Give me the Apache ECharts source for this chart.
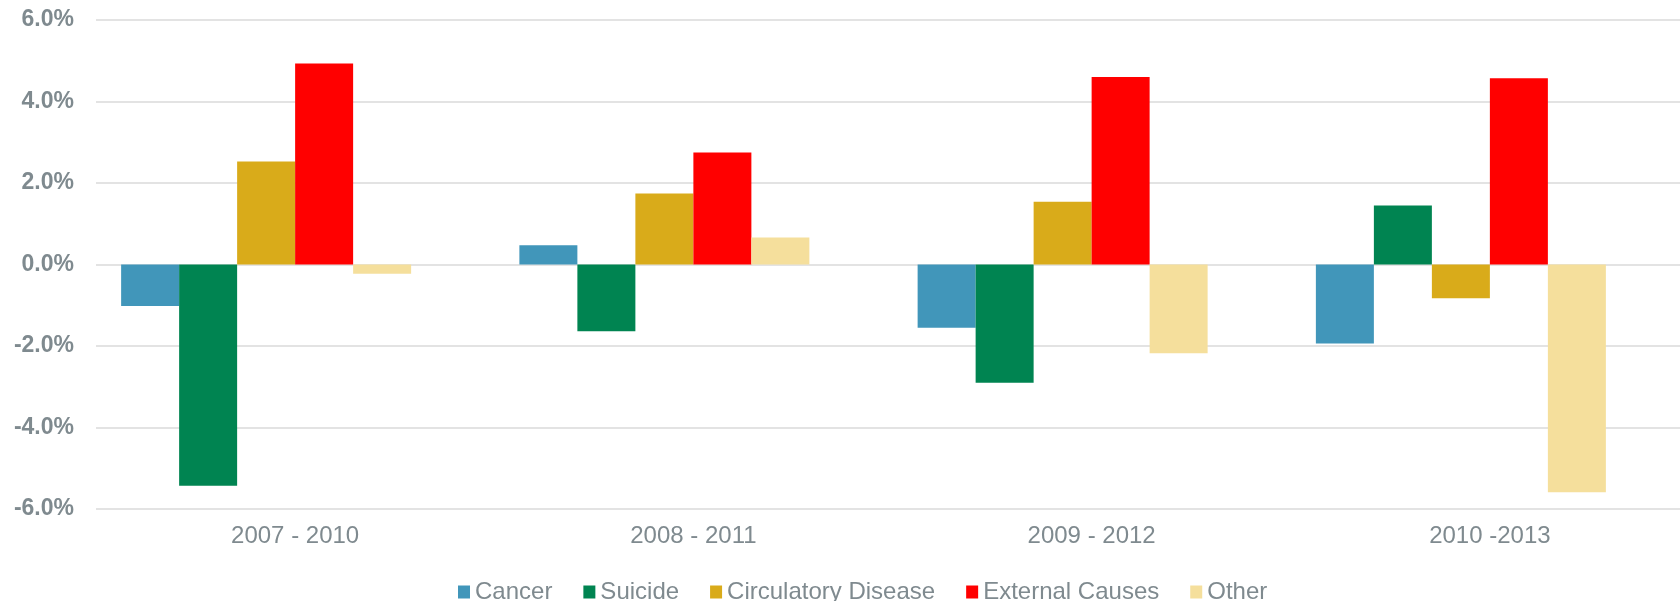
<!DOCTYPE html>
<html>
<head>
<meta charset="utf-8">
<script src="https://cdn.jsdelivr.net/npm/echarts@6/dist/echarts.min.js"></script>
<style>
  html, body { margin: 0; padding: 0; background: #fff; }
  #chart { width: 1680px; height: 601px; }
</style>
</head>
<body>
<div id="chart"></div>
<script>
// periods on the x axis
const periods = ["2007 - 2010", "2008 - 2011", "2009 - 2012", "2010 -2013"];

// change in deaths, percent
const cancer      = [-1.02, 0.47, -1.55, -1.94];
const suicide     = [-5.43, -1.64, -2.90, 1.45];
const circulatory = [2.53, 1.74, 1.54, -0.83];
const external    = [4.93, 2.75, 4.60, 4.57];
const other       = [-0.23, 0.66, -2.18, -5.59];

const seriesNames = ["Cancer", "Suicide", "Circulatory Disease", "External Causes", "Other"];
const seriesData = [cancer, suicide, circulatory, external, other];
const colors = ["#4196ba", "#008451", "#d9ab1a", "#ff0000", "#f5df9c"];

const labelGrey = "#7f8a8f";

const series = seriesData.map((d, i) => ({
  name: seriesNames[i],
  type: "bar",
  data: d,
  barWidth: 58,
  barGap: "0%",
  itemStyle: { color: colors[i] }
}));
// the source leaves an empty sixth slot in each group
series.push({ name: "", type: "bar", data: [], barWidth: 58, barGap: "0%" });

const chart = echarts.init(document.getElementById("chart"));
chart.setOption({
  animation: false,
  color: colors,
  // plot runs a little past the right edge, like the source
  grid: {
    left: 96, top: 20, width: 1593, height: 489,
    containLabel: false,
    outerBoundsMode: "none"
  },
  legend: {
    data: seriesNames,
    left: 453,
    top: 575,
    itemWidth: 12,
    itemHeight: 13,
    itemGap: 31,
    icon: "rect",
    textStyle: { fontFamily: "Liberation Sans", fontSize: 24, color: labelGrey }
  },
  xAxis: {
    type: "category",
    data: periods,
    axisLine: { show: false },
    axisTick: { show: false },
    axisLabel: {
      margin: 15,
      fontFamily: "Liberation Sans",
      fontSize: 24,
      color: labelGrey
    }
  },
  yAxis: {
    type: "value",
    min: -6,
    max: 6,
    interval: 2,
    axisLine: { show: false },
    axisTick: { show: false },
    splitLine: { lineStyle: { color: "#e3e3e3", width: 2 } },
    axisLabel: {
      margin: 22,
      fontFamily: "Liberation Sans",
      fontWeight: "bold",
      fontSize: 23,
      color: labelGrey,
      formatter: v => v.toFixed(1) + "%"
    }
  },
  series: series
});
</script>
</body>
</html>
